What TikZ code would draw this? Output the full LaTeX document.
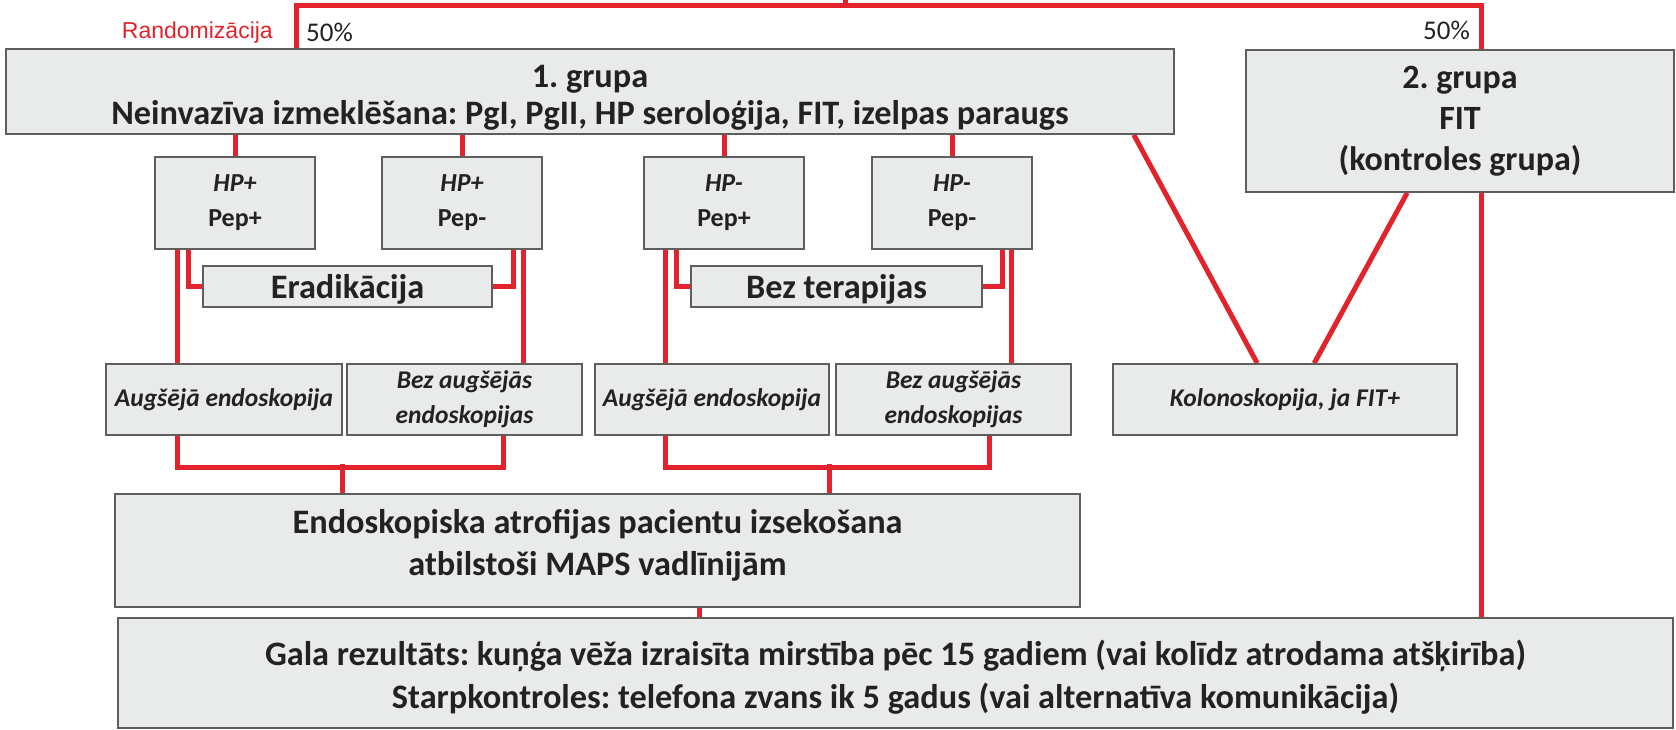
\documentclass[tikz,border=0pt]{standalone}
\usepackage{fontspec}
\setmainfont{Carlito}
\newfontfamily\arialf{Liberation Sans}
\frenchspacing
\usetikzlibrary{calc}
\pgfdeclarelayer{bg}
\pgfsetlayers{bg,main}
\definecolor{redl}{HTML}{E3232B}
\definecolor{boxfill}{HTML}{E9EAEA}
\definecolor{boxline}{HTML}{5E5E5E}
\definecolor{txt}{HTML}{222222}
\begin{document}
\begin{tikzpicture}[x=1pt,y=-1pt,
  box/.style={draw=boxline, fill=boxfill, line width=1.6pt, inner sep=0pt, align=center, text=txt},
  tx/.style={inner sep=0pt, align=center, text=txt},
  big/.style={font=\bfseries\fontsize{34.3pt}{38pt}\selectfont},
  small/.style={font=\bfseries\fontsize{26pt}{35pt}\selectfont},
  ital/.style={font=\bfseries\itshape\fontsize{25.5pt}{35pt}\selectfont},
  redline/.style={draw=redl, line width=5pt},
  lbl/.style={inner sep=0pt, text=txt, font=\fontsize{27pt}{30pt}\selectfont},
]
\useasboundingbox (0,0) rectangle (1676,730);

% boxes
\node[box, minimum width=1168pt, minimum height=85pt] (g1) at (590,91.5) {};
\node[tx, font=\bfseries\fontsize{34.3pt}{37pt}\selectfont] (g1t) at ([yshift=-6pt]g1.center)
  {1. grupa\\Neinvazīva izmeklēšana: PgI, PgII, HP seroloģija, FIT, izelpas paraugs};
\node[box, minimum width=428pt, minimum height=142pt, font=\bfseries\fontsize{34pt}{41pt}\selectfont] (g2) at (1460,121)
  {2. grupa\\FIT\\(kontroles grupa)};

\node[box, small, minimum width=160pt, minimum height=92pt] (A) at (235,203) {\textit{HP+}\\Pep+};
\node[box, small, minimum width=160pt, minimum height=92pt] (B) at (462,203) {\textit{HP+}\\Pep-};
\node[box, small, minimum width=160pt, minimum height=92pt] (C) at (724,203) {\textit{HP-}\\Pep+};
\node[box, small, minimum width=160pt, minimum height=92pt] (D) at (952,203) {\textit{HP-}\\Pep-};

\node[box, minimum width=289pt, minimum height=41pt] (erad) at (347.5,286.5) {};
\node[tx, big] (eradt) at ([yshift=-3pt]erad.center) {Eradikācija};
\node[box, minimum width=291pt, minimum height=41pt] (bezt) at (836.5,286.5) {};
\node[tx, big] (beztt) at ([yshift=-3pt]bezt.center) {Bez terapijas};

\node[box, ital, minimum width=236pt, minimum height=71pt] (aug1) at (224,399.5) {Augšējā endoskopija};
\node[box, ital, minimum width=235pt, minimum height=71pt] (bez1) at (464.5,399.5) {Bez augšējās\\endoskopijas};
\node[box, ital, minimum width=234pt, minimum height=71pt] (aug2) at (712,399.5) {Augšējā endoskopija};
\node[box, ital, minimum width=235pt, minimum height=71pt] (bez2) at (953.5,399.5) {Bez augšējās\\endoskopijas};
\node[box, ital, minimum width=344pt, minimum height=71pt] (kolo) at (1285,399.5) {Kolonoskopija, ja FIT+};

\node[box, minimum width=965pt, minimum height=113pt] (endo) at (597.5,550.5) {};
\node[tx, font=\bfseries\fontsize{34.3pt}{42pt}\selectfont] (endot) at ([yshift=5pt]endo.center)
  {Endoskopiska atrofijas pacientu izsekošana\\atbilstoši MAPS vadlīnijām};
\node[box, minimum width=1555pt, minimum height=110pt] (fin) at (895.5,673) {};
\node[tx, font=\bfseries\fontsize{34.3pt}{43pt}\selectfont] (fint) at ([yshift=-4pt]fin.center)
  {Gala rezultāts: kuņģa vēža izraisīta mirstība pēc 15 gadiem (vai kolīdz atrodama atšķirība)\\Starpkontroles: telefona zvans ik 5 gadus (vai alternatīva komunikācija)};

% labels
\node[inner sep=0pt, anchor=east, text=redl, font=\arialf\fontsize{23pt}{26pt}\selectfont] (rnd) at (273,33) {Randomizācija};
\node[lbl, anchor=west] (p1) at (306,32) {50\%};
\node[lbl, anchor=east] (p2) at (1470,30) {50\%};

% connectors
\coordinate (t0) at (845,0);
\coordinate (tl) at (296,6);
\coordinate (tr) at (1481,6);
\begin{pgfonlayer}{bg}
\draw[redline] (t0) -- (t0 |- tl);
\draw[redline] (g1.north -| tl) |- (tr) -- (fin.north -| tr);

\foreach \n in {A,B,C,D} \draw[redline] (\n.north) -- (\n.north |- g1.south);

\draw[redline] ([xshift=23pt]A.south west) -- ([xshift=23pt]A.south west |- aug1.north);
\draw[redline] ([xshift=34pt]A.south west) |- (erad.west);
\draw[redline] ([xshift=-29pt]B.south east) |- (erad.east);
\draw[redline] ([xshift=-19pt]B.south east) -- ([xshift=-19pt]B.south east |- bez1.north);

\draw[redline] ([xshift=22pt]C.south west) -- ([xshift=22pt]C.south west |- aug2.north);
\draw[redline] ([xshift=33pt]C.south west) |- (bezt.west);
\draw[redline] ([xshift=-30pt]D.south east) |- (bezt.east);
\draw[redline] ([xshift=-21pt]D.south east) -- ([xshift=-21pt]D.south east |- bez2.north);

\draw[redline] ([xshift=72pt]aug1.south west) -- ++(0,32) -| ([xshift=157pt]bez1.south west);
\draw[redline] (endo.north -| aug1.south east) -- ++(0,-29);
\draw[redline] ([xshift=71pt]aug2.south west) -- ++(0,32) -| ([xshift=154pt]bez2.south west);
\draw[redline] (endo.north -| aug2.south east) -- ++(0,-29);

\draw[redline] ([xshift=585pt]endo.south west) -- ([xshift=585pt]endo.south west |- fin.north);

\draw[redline] ([xshift=-41pt]g1.south east) -- ([xshift=145pt]kolo.north west);
\draw[redline] ([xshift=162pt]g2.south west) -- ([xshift=202pt]kolo.north west);
\end{pgfonlayer}
\end{tikzpicture}
\end{document}
